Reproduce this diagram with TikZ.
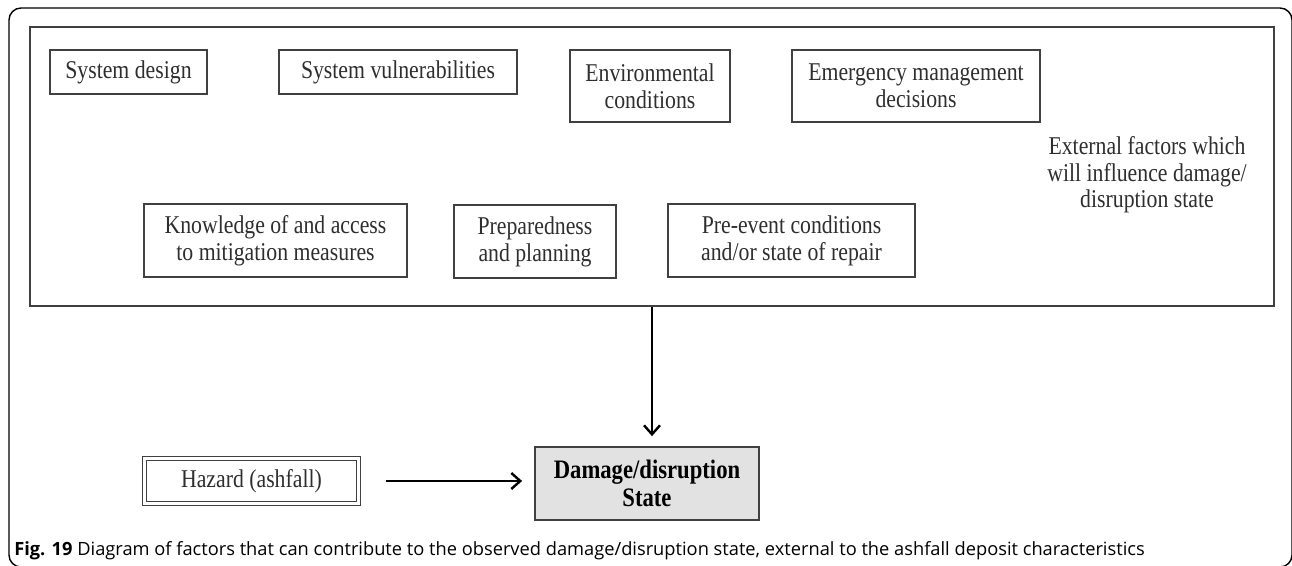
\documentclass[tikz,border=0pt]{standalone}
\usepackage{fontspec}
\setmainfont[FakeStretch=0.85]{Liberation Serif}
\newfontfamily\capfont{Open Sans}
\usetikzlibrary{arrows.meta}
\definecolor{txt}{HTML}{2E2E2E}
\definecolor{ln}{HTML}{404040}
\definecolor{dmgfill}{HTML}{E2E2E2}
\def\px{0.75pt}
\tikzset{
  factor/.style={draw=ln, line width=1.6*\px, text=txt, align=center, inner sep=0pt,
    font=\fontsize{19.2pt}{20.25pt}\selectfont},
  container/.style={draw=ln, line width=2.2*\px, inner sep=0pt},
  plain/.style={text=txt, align=center, font=\fontsize{19.2pt}{20pt}\selectfont},
  hazardbox/.style={draw=ln, line width=1.3*\px, double=white, double distance=2.2*\px,
    text=txt, align=center, inner sep=0pt, font=\fontsize{19.2pt}{20.25pt}\selectfont},
  dmgbox/.style={draw=ln, line width=1.8*\px, fill=dmgfill, text=black, align=center,
    inner sep=0pt, font=\fontsize{20pt}{20.5pt}\selectfont\bfseries},
  arr/.style={draw=black, line width=1.4*\px,
    -{Straight Barb[length=9*\px, width=16*\px, line width=2.4*\px]}},
  frame/.style={draw=black, line width=1.4*\px, rounded corners=12*\px},
  caption/.style={anchor=base west, inner sep=0pt, text=black,
    font=\capfont\fontsize{13.7pt}{15pt}\selectfont}
}
\begin{document}
\begin{tikzpicture}[x=0.75pt, y=-0.75pt]
\useasboundingbox (0,0) rectangle (1292,565);
\draw[frame] (9,8) rectangle (1292,567);
% container of external factors
\node[container, minimum width=1244*\px, minimum height=279*\px] (ext) at (652,166.5) {};
% factor boxes
\node[factor, minimum width=157*\px, minimum height=44*\px] (sd) at (128.5,72) {System design};
\node[factor, minimum width=238*\px, minimum height=44*\px] (sv) at (398,72) {System vulnerabilities};
\node[factor, minimum width=160*\px, minimum height=72*\px] (env) at (650,86) {Environmental\\conditions};
\node[factor, minimum width=248*\px, minimum height=72*\px] (em) at (916,86) {Emergency management\\decisions};
\node[factor, minimum width=263*\px, minimum height=73*\px] (kn) at (275.5,240.5) {Knowledge of and access\\to mitigation measures};
\node[factor, minimum width=162*\px, minimum height=73*\px] (pp) at (535,241.5) {Preparedness\\and planning};
\node[factor, minimum width=247*\px, minimum height=73*\px] (pe) at (791.5,240.5) {Pre-event conditions\\and/or state of repair};
\node[plain] (extlabel) at (1147,175) {External factors which\\will influence damage/\\disruption state};
% bottom row
\node[hazardbox, minimum width=214*\px, minimum height=45*\px] (hz) at (251.5,481) {Hazard (ashfall)};
\node[dmgbox, minimum width=224*\px, minimum height=73*\px] (dmg) at (647,483.5) {Damage/disruption\\State};
% connectors
\draw[arr, shorten >=10*\px] (ext.south) -- (ext.south |- dmg.north);
\draw[arr, shorten <=27*\px, shorten >=12*\px] (hz.east) -- (hz.east -| dmg.west);
% caption
\node[caption] (cap) at (14,555) {\textbf{Fig. 19} Diagram of factors that can contribute to the observed damage/disruption state, external to the ashfall deposit characteristics};
\end{tikzpicture}
\end{document}
